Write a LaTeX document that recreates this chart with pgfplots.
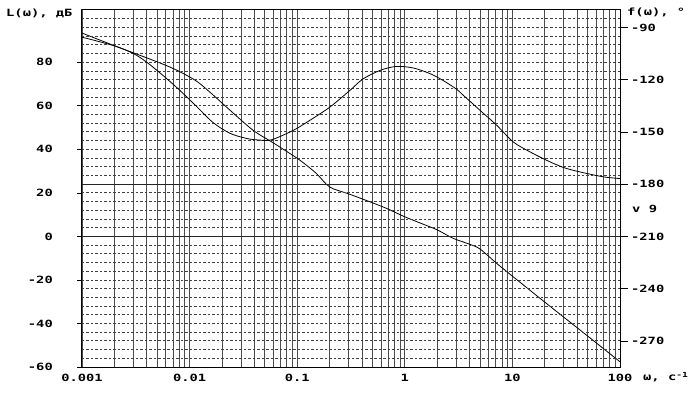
\documentclass[border=0pt]{standalone}
\usepackage{fontspec}
\setmainfont{DejaVu Sans Mono}
\newfontfamily\lcd[FakeStretch=1.38]{DejaVu Sans Mono}
\usepackage{pgfplots}
\pgfplotsset{compat=1.18}
\newcommand{\lf}{\lcd\bfseries\fontsize{10}{12}\selectfont}
\begin{document}
\begin{tikzpicture}
\useasboundingbox (-82bp,-26bp) rectangle (618bp,367bp);
% left axis: frame, vertical grid, magnitude
\begin{axis}[
  at={(0,0)}, anchor=south west,
  scale only axis, width=538bp, height=357bp,
  xmode=log, xmin=0.001, xmax=100,
  ymin=-60, ymax=104,
  xtick={0.001,0.01,0.1,1,10,100},
  xticklabels={0.001,0.01,0.1,1,10,100},
  minor xtick={0.002,0.003,0.004,0.005,0.006,0.007,0.008,0.009,
               0.02,0.03,0.04,0.05,0.06,0.07,0.08,0.09,
               0.2,0.3,0.4,0.5,0.6,0.7,0.8,0.9,
               2,3,4,5,6,7,8,9,
               20,30,40,50,60,70,80,90},
  ytick={-60,-40,-20,0,20,40,60,80},
  yticklabels={-60,-40,-20,0,20,40,60,80},
  xtick pos=left, ytick pos=left,
  tick align=outside,
  major tick length=5bp, minor tick length=0pt,
  xtick style={draw=none},
  tick style={black, line width=0.7bp},
  xmajorgrids, xminorgrids,
  grid style={black!70, line width=0.7bp},
  axis line style={black, line width=1bp},
  ticklabel style={font=\lf},
  /pgf/number format/assume math mode=true,
  yticklabel style={anchor=east, inner sep=0pt, xshift=-24bp},
  xticklabel style={anchor=center, inner sep=0pt, yshift=-6bp},
]
\addplot[black, line width=0.8bp, smooth] coordinates {
 (0.001,93.4) (0.002,87.6) (0.004,82.0) (0.006,78.6) (0.008,75.8)
 (0.0117,71.2) (0.0165,65.0) (0.0237,58.0) (0.0388,48.8) (0.0571,43.6)
 (0.0692,41.0) (0.106,35.0) (0.15,29.0) (0.2018,22.6) (0.31,19.3)
 (0.631,13.5) (1,9.0) (1.5,5.5) (2.0,3.0) (2.82,-0.9) (4.0,-3.6)
 (5.0,-5.8) (7.15,-12.4) (10.2,-18.6) (20,-30.2) (30,-37.1)
 (42.5,-43.0) (70,-51.5) (100,-57.6)};
\end{axis}
% right axis: phase, horizontal dashed grid
\begin{axis}[
  at={(0,0)}, anchor=south west,
  scale only axis, width=538bp, height=357bp,
  xmode=log, xmin=0.001, xmax=100,
  ymin=-285, ymax=-80,
  hide x axis,
  ytick={-270,-240,-210,-180,-150,-120,-90},
  yticklabels={-270,-240,-210,-180,-150,-120,-90},
  minor ytick={-280,-275,...,-85},
  ytick pos=right, yticklabel pos=right,
  tick align=outside,
  major tick length=8bp, minor tick length=0pt,
  tick style={black, line width=0.7bp},
  ymajorgrids, yminorgrids,
  grid style={black!75, line width=0.8bp, dash pattern=on 2.5bp off 2bp},
  extra y ticks={-210,-180}, extra y tick labels={},
  extra y tick style={major grid style={solid, black!85, line width=0.8bp}, major tick length=0pt},
  axis line style={black, line width=1bp},
  ticklabel style={font=\lf},
  /pgf/number format/assume math mode=true,
  yticklabel style={anchor=west, inner sep=0pt, xshift=3bp},
]
\addplot[black, line width=0.8bp, smooth] coordinates {
 (0.001,-95.6) (0.002,-100.6) (0.003,-105.0) (0.004,-110.0) (0.00566,-117.6)
 (0.008,-125.8) (0.0117,-135.6) (0.0165,-144.6) (0.0237,-150.8) (0.0341,-153.8)
 (0.045,-154.7) (0.058,-154.5) (0.092,-149.1) (0.1315,-143.3) (0.2018,-135.7)
 (0.31,-126.1) (0.411,-119.5) (0.6,-114.5) (0.84,-112.4) (1.2,-113.3)
 (1.71,-116.5) (2.26,-120.4) (3.03,-125.5) (3.5,-129.0) (5.0,-137.6)
 (7.15,-146.2) (10.2,-155.8) (14.6,-161.5) (20.8,-166.3) (29.7,-170.4)
 (42.5,-173.0) (70,-175.8) (100,-176.8)};
\end{axis}
\node[anchor=west, inner sep=0pt, font=\lf] at (-76bp,354bp) {L(ω), дБ};
\node[anchor=west, inner sep=0pt, font=\lf] at (545bp,355bp) {f(ω), °};
\node[anchor=west, inner sep=0pt, font=\lf] at (561bp,-10bp) {ω, c\textsuperscript{-1}};
\node[anchor=west, inner sep=0pt, font=\lf] at (550bp,158bp) {v 9};
\end{tikzpicture}
\end{document}
